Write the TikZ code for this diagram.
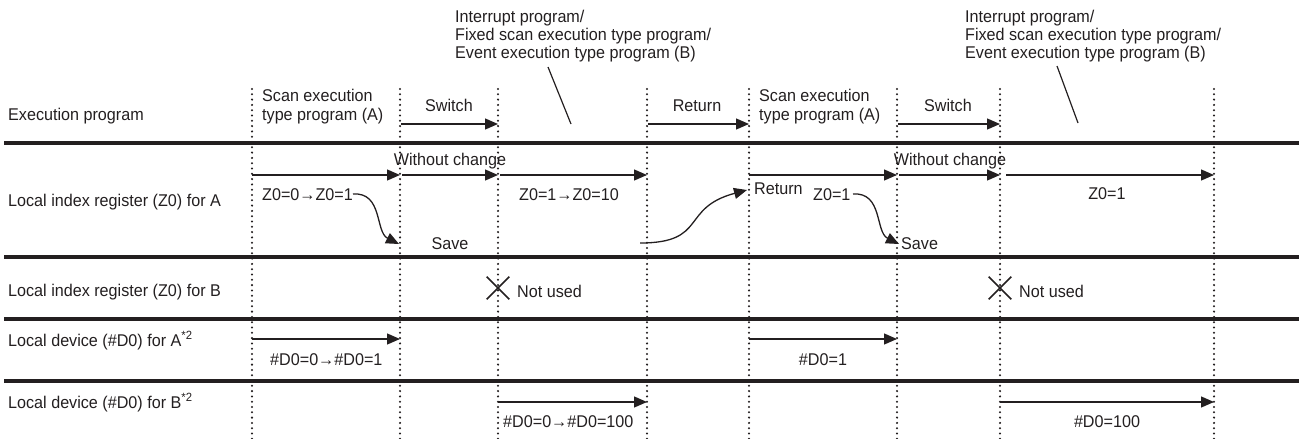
\documentclass[tikz,border=0pt]{standalone}
\usepackage{fontspec}
\setmainfont{Liberation Sans}[FakeStretch=0.95]
\usetikzlibrary{arrows.meta,shapes.misc}
\definecolor{ink}{RGB}{35,31,32}
\begin{document}
\begin{tikzpicture}[x=1pt,y=-1pt,
  lbl/.style={font=\fontsize{17}{18.5}\selectfont, inner sep=0pt, text=ink, anchor=base west},
  clbl/.style={lbl, anchor=base},
  sepline/.style={line width=3.2pt, draw=ink},
  vline/.style={line width=2.3pt, dash pattern=on 0pt off 5.3pt, line cap=round, draw=ink},
  arr/.style={line width=1.3pt, draw=ink, -{Triangle[length=13pt,width=11pt]}},
  leader/.style={line width=1.2pt, draw=ink},
  xmark/.style={draw=ink, cross out, minimum size=21pt, inner sep=0pt, line width=1.7pt},
]
\useasboundingbox (0,0) rectangle (1299,439);

% vertical dotted time lines
\foreach \n/\x in {1/252,2/400,3/498,4/647,5/749,6/897,7/1000,8/1214} {
  \coordinate (t\n) at (\x,89);
  \coordinate (b\n) at (\x,439);
  \draw[vline] (t\n) -- (b\n);
}

% horizontal separators
\foreach \n/\y in {1/143,2/257,3/319,4/381} {
  \coordinate (hl\n) at (4,\y);
  \coordinate (hr\n) at (1299,\y);
  \draw[sepline] (hl\n) -- (hr\n);
}

% top callouts
\node[lbl] (ia1) at (455,23) {Interrupt program/};
\node[lbl] (ia2) at (455,40.5) {Fixed scan execution type program/};
\node[lbl] (ia3) at (455,58) {Event execution type program (B)};
\node[lbl] (ib1) at (965,23) {Interrupt program/};
\node[lbl] (ib2) at (965,40.5) {Fixed scan execution type program/};
\node[lbl] (ib3) at (965,58) {Event execution type program (B)};
\coordinate (la1) at (548,67); \coordinate (la2) at (571,124);
\coordinate (lb1) at (1057,66); \coordinate (lb2) at (1078,123);
\draw[leader] (la1) -- (la2);
\draw[leader] (lb1) -- (lb2);

% row labels
\node[lbl] (r1) at (8,120) {Execution program};
\node[lbl] (r2) at (8,206) {Local index register (Z0) for A};
\node[lbl] (r3) at (8,296) {Local index register (Z0) for B};
\node[lbl] (r4) at (8,346) {Local device (\#D0) for A\textsuperscript{*2}};
\node[lbl] (r5) at (8,408) {Local device (\#D0) for B\textsuperscript{*2}};

% row 1: execution program
\node[lbl] (sa1) at (262,101) {Scan execution};
\node[lbl] (sa2) at (262,120) {type program (A)};
\node[lbl] (sb1) at (759,101) {Scan execution};
\node[lbl] (sb2) at (759,120) {type program (A)};
\node[clbl] (sw1) at (449,111) {Switch};
\node[clbl] (rt1) at (697,111) {Return};
\node[clbl] (sw2) at (948,111) {Switch};
\coordinate (e1s) at (401,124); \coordinate (e1e) at (498,124);
\coordinate (e2s) at (648,124); \coordinate (e2e) at (749,124);
\coordinate (e3s) at (898,124); \coordinate (e3e) at (1000,124);
\draw[arr] (e1s) -- (e1e);
\draw[arr] (e2s) -- (e2e);
\draw[arr] (e3s) -- (e3e);

% row 2: local index register for A
\coordinate (z1) at (252,175); \coordinate (z2) at (400,175);
\coordinate (z3) at (402,175); \coordinate (z4) at (498,175);
\coordinate (z5) at (500,175); \coordinate (z6) at (647,175);
\coordinate (z7) at (749,175); \coordinate (z8) at (897,175);
\coordinate (z9) at (899,175); \coordinate (z10) at (1000,175);
\coordinate (z11) at (1006,175); \coordinate (z12) at (1214,175);
\draw[arr] (z1) -- (z2);
\draw[arr] (z3) -- (z4);
\draw[arr] (z5) -- (z6);
\draw[arr] (z7) -- (z8);
\draw[arr] (z9) -- (z10);
\draw[arr] (z11) -- (z12);
\node[clbl] (wc1) at (450,165) {Without change};
\node[clbl] (wc2) at (950,165) {Without change};
\node[lbl] (za) at (262,200) {Z0=0→Z0=1};
\node[clbl] (zb) at (569,200) {Z0=1→Z0=10};
\node[lbl] (rt2) at (754,194) {Return};
\node[lbl] (zc) at (813,200) {Z0=1};
\node[clbl] (zd) at (1107,199) {Z0=1};
\node[clbl] (sv1) at (450,249) {Save};
\node[lbl] (sv2) at (901,249) {Save};
\coordinate (c1s) at (353,194); \coordinate (c1e) at (399,244);
\coordinate (c2s) at (853,194); \coordinate (c2e) at (899,244);
\coordinate (c3s) at (640,243); \coordinate (c3e) at (747,190);
\draw[arr] (c1s) .. controls (383,192) and (375,232) .. (c1e);
\draw[arr] (c2s) .. controls (883,192) and (875,232) .. (c2e);
\draw[arr] (c3s) .. controls (708,243) and (680,208) .. (c3e);

% row 3: local index register for B
\node[xmark] (x1) at (498,288) {};
\node[xmark] (x2) at (1000,288) {};
\node[lbl] (nu1) at (517,297) {Not used};
\node[lbl] (nu2) at (1019,297) {Not used};

% row 4: local device for A
\coordinate (d1) at (252,339); \coordinate (d2) at (400,339);
\coordinate (d3) at (749,339); \coordinate (d4) at (897,339);
\draw[arr] (d1) -- (d2);
\draw[arr] (d3) -- (d4);
\node[lbl] (da) at (270,365) {\#D0=0→\#D0=1};
\node[clbl] (db) at (823,365) {\#D0=1};

% row 5: local device for B
\coordinate (f1) at (498,402); \coordinate (f2) at (647,402);
\coordinate (f3) at (1000,402); \coordinate (f4) at (1214,402);
\draw[arr] (f1) -- (f2);
\draw[arr] (f3) -- (f4);
\node[lbl] (fa) at (503,427) {\#D0=0→\#D0=100};
\node[clbl] (fb) at (1107,427) {\#D0=100};
\end{tikzpicture}
\end{document}
